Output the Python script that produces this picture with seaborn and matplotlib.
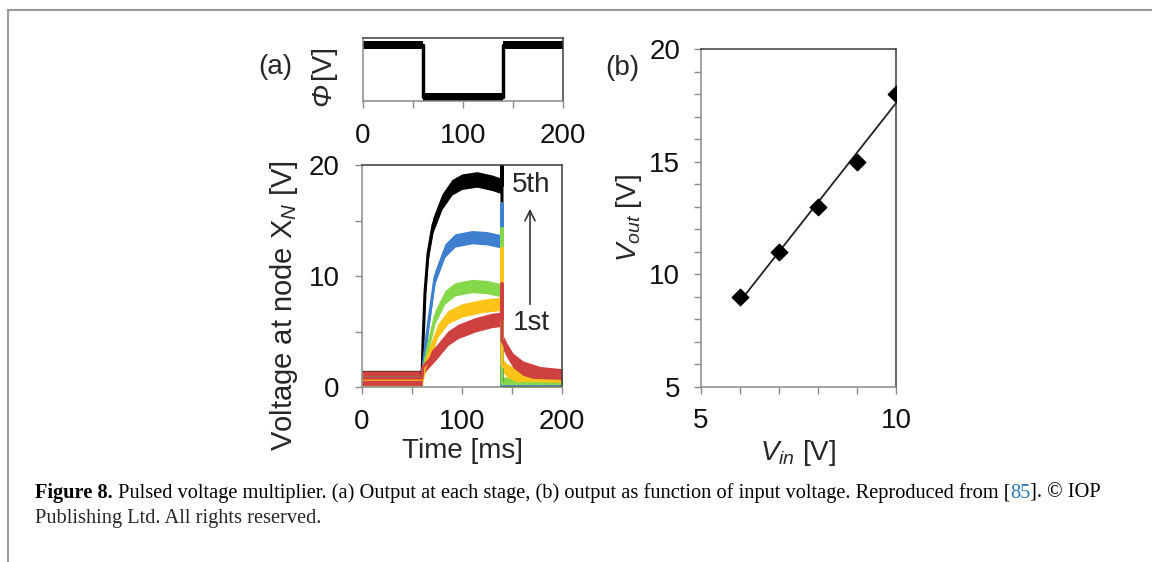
import numpy as np
import pandas as pd
import seaborn as sns
import matplotlib.pyplot as plt
from matplotlib.lines import Line2D

# --- data ---
# (a) gate pulse
phi_t = [0, 60, 60, 140, 140, 200]
phi_v = [1, 1, 0, 0, 1, 1]

# (a) node voltages, stage 5 (top) .. stage 1 (bottom)
t_black = [0, 60, 61, 63, 66, 71, 80, 90, 100, 115, 130, 140, 140, 140, 200]
v_black = [0.8, 0.8, 4.0, 8.5, 12.0, 14.6, 16.7, 18.0, 18.5, 18.7, 18.4, 18.1, 21.0, 0.1, 0.1]
t_blue = [0, 60, 62, 66, 73, 83, 93, 110, 125, 140, 140, 140, 200]
v_blue = [0.8, 0.8, 2.5, 5.4, 9.9, 12.3, 13.2, 13.5, 13.4, 13.1, 16.5, 0.2, 0.2]
t_green = [0, 60, 62, 66, 73, 83, 93, 110, 125, 140, 140, 140, 200]
v_green = [0.8, 0.8, 1.8, 3.6, 6.3, 8.1, 8.8, 9.1, 9.0, 8.7, 14.3, 0.3, 0.3]
t_yellow = [0, 60, 62, 66, 76, 86, 100, 120, 140, 140, 140, 145, 155, 170, 200]
v_yellow = [0.7, 0.7, 1.5, 2.7, 5.1, 6.3, 6.9, 7.3, 7.5, 12.5, 2.0, 1.5, 1.0, 0.6, 0.5]
t_red = [0, 60, 61, 66, 76, 86, 96, 113, 130, 140, 140, 140, 145, 151, 161, 178, 200]
v_red = [0.8, 0.8, 1.8, 2.3, 3.3, 4.4, 5.0, 5.6, 6.0, 6.1, 9.3, 4.2, 3.3, 2.4, 1.7, 1.2, 1.0]

# (b) output vs input
v_in = [6, 7, 8, 9, 10]
v_out = [9, 11, 13, 15, 18]

W, H = 1152, 562
sns.set_theme(style="ticks")
plt.rcParams["font.family"] = ["Liberation Sans", "DejaVu Sans"]
plt.rcParams["mathtext.fontset"] = "custom"
plt.rcParams["mathtext.rm"] = "Liberation Sans"
plt.rcParams["mathtext.it"] = "Liberation Sans:italic"
FS = 20
GREY = "#8a8a8a"

fig = plt.figure(figsize=(W / 100, H / 100), dpi=100)
fig.patch.set_facecolor("white")


def style_axes(ax):
    for s in ["left", "bottom"]:
        ax.spines[s].set_color(GREY)
    for s in ["top", "right"]:
        ax.spines[s].set_color("#3a3a3a")
        ax.spines[s].set_visible(True)
    for s in ax.spines.values():
        s.set_linewidth(1.1)
    ax.tick_params(which="both", direction="out", color=GREY, length=5, width=1,
                   labelsize=FS, pad=11, labelcolor="#111111")
    ax.set_facecolor("white")


def noisy_line(ax, t, v, color, half, lw=2.2):
    v = np.asarray(v, dtype=float)
    ax.fill_between(t, v - half, v + half, color=color, lw=0)
    sns.lineplot(x=t, y=v, ax=ax, color=color, lw=lw, estimator=None, sort=False)


# ---- top: gate signal ----
ax_p = fig.add_axes([363 / W, 1 - 101 / H, 200 / W, 63 / H])
noisy_line(ax_p, phi_t, phi_v, "black", 0.07, lw=2.5)
ax_p.set_xlim(0, 200)
ax_p.set_ylim(-0.077, 1.135)
ax_p.set_xticks([0, 50, 100, 150, 200], ["0", "", "100", "", "200"])
ax_p.set_yticks([])
style_axes(ax_p)
# italic Phi + upright unit, as two rotated texts
fig.text(323 / W, 1 - 94 / H, "\u03a6", fontsize=FS, style="italic", rotation=90,
         ha="center", va="center")
fig.text(323 / W, 1 - 62 / H, "[V]", fontsize=FS, rotation=90, ha="center", va="center")

# ---- (a) node voltages ----
ax_a = fig.add_axes([362 / W, 1 - 387 / H, 200 / W, 222 / H])
curves = [(t_black, v_black, "black", 0.7),
          (t_blue, v_blue, "#3f7fd0", 0.6),
          (t_green, v_green, "#86d84b", 0.6),
          (t_yellow, v_yellow, "#fcc419", 0.6),
          (t_red, v_red, "#cf4040", 0.65)]
for t, v, c, h in curves:
    noisy_line(ax_a, t, v, c, h)
ax_a.set_xlim(0, 200)
ax_a.set_ylim(0, 20)
ax_a.set_xticks([0, 50, 100, 150, 200], ["0", "", "100", "", "200"])
ax_a.set_yticks([0, 5, 10, 15, 20], ["0", "", "10", "", "20"])
style_axes(ax_a)
ax_a.set_xlabel("Time [ms]", fontsize=FS, labelpad=2)
ax_a.set_ylabel("Voltage at node X$_{N}$ [V]", fontsize=21, labelpad=4)
ax_a.yaxis.set_label_coords(-0.31, 0.365)
ax_a.text(169, 18.2, "5th", fontsize=FS, ha="center", va="center")
ax_a.text(169, 5.8, "1st", fontsize=FS, ha="center", va="center")
ax_a.annotate("", xy=(168, 16.3), xytext=(168, 7.2),
              arrowprops=dict(arrowstyle="->", lw=1.2, color="#333333", mutation_scale=18))

# ---- (b) output vs input ----
ax_b = fig.add_axes([701 / W, 1 - 387 / H, 195 / W, 338 / H])
sns.regplot(x=v_in, y=v_out, ax=ax_b, ci=None, marker="D", color="black",
            scatter_kws={"s": 70, "alpha": 1, "edgecolor": "black", "zorder": 3},
            line_kws={"lw": 1.3, "color": "#222222"})
ax_b.set_xlim(5, 10)
ax_b.set_ylim(5, 20)
ax_b.set_xticks([5, 10])
ax_b.set_xticks([6, 7, 8, 9], minor=True)
ax_b.set_yticks([5, 10, 15, 20])
ax_b.set_yticks(np.arange(6, 20), minor=True)
style_axes(ax_b)
ax_b.tick_params(which="both", pad=10)
ax_b.set_xlabel("$V_{in}$ [V]", fontsize=FS, labelpad=3)
ax_b.set_ylabel("$V_{out}$ [V]", fontsize=FS, labelpad=4)

fig.text(275 / W, 1 - 67 / H, "(a)", fontsize=FS, ha="center", va="center")
fig.text(622 / W, 1 - 68 / H, "(b)", fontsize=FS, ha="center", va="center")

# ---- frame ----
fig.add_artist(Line2D([8 / W, 8 / W], [0, 1 - 10 / H], transform=fig.transFigure,
                      color="#9a9a9a", lw=1.5))
fig.add_artist(Line2D([8 / W, 1], [1 - 10 / H, 1 - 10 / H], transform=fig.transFigure,
                      color="#9a9a9a", lw=1.5))

# ---- caption ----
cap_font = ["Liberation Serif", "DejaVu Serif"]
CFS = 14.7
pieces = [("Figure 8.", "bold", "black"),
          (" Pulsed voltage multiplier. (a) Output at each stage, (b) output as function "
           "of input voltage. Reproduced from [", "normal", "black"),
          ("85", "normal", "#2a7ab8"),
          ("]. \u00a9 IOP", "normal", "black")]
renderer = fig.canvas.get_renderer()
x = 35 / W
for txt, wt, col in pieces:
    t_obj = fig.text(x, 1 - 493 / H, txt, fontsize=CFS, fontweight=wt, color=col,
                     family=cap_font, va="center", ha="left")
    bb = t_obj.get_window_extent(renderer)
    x = bb.x1 / W
fig.text(35 / W, 1 - 518 / H, "Publishing Ltd. All rights reserved.", fontsize=CFS,
         family=cap_font, va="center", ha="left")

fig.savefig("out.png", dpi=100, facecolor="white")
